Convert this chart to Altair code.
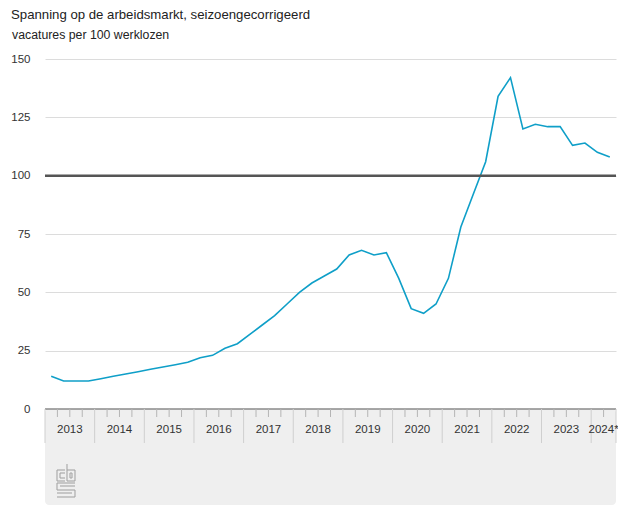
import altair as alt
import pandas as pd

# ---- data ----
years = [2013, 2014, 2015, 2016, 2017, 2018, 2019, 2020, 2021, 2022, 2023, 2024]
year_labels = ["2013", "2014", "2015", "2016", "2017", "2018", "2019", "2020",
               "2021", "2022", "2023", "2024*"]
quarters_per_year = [4, 4, 4, 4, 4, 4, 4, 4, 4, 4, 4, 2]
values = [14, 12, 12, 12,
          13, 14, 15, 16,
          17, 18, 19, 20,
          22, 23, 26, 28,
          32, 36, 40, 45,
          50, 54, 57, 60,
          66, 68, 66, 67,
          56, 43, 41, 45,
          56, 78, 92, 106,
          134, 142, 120, 122,
          121, 121, 113, 114,
          110, 108]
y_ticks = [0, 25, 50, 75, 100, 125, 150]
reference_level = 100

title_text = "Spanning op de arbeidsmarkt, seizoengecorrigeerd"
subtitle_text = "vacatures per 100 werklozen"

FONT = "Liberation Sans"
LINE_COLOR = "#0f9fc8"
W, H = 571, 350

# ---- build tables ----
rows = []
idx = 0
for y, n in zip(years, quarters_per_year):
    for q in range(1, n + 1):
        rows.append({"periode": f"{y} Q{q}", "pos": idx + 0.5, "waarde": values[idx]})
        idx += 1
df = pd.DataFrame(rows)
n_total = len(df)

bounds, centers, qticks = [], [], []
start = 0
for y, lab, n in zip(years, year_labels, quarters_per_year):
    bounds.append(start)
    centers.append({"label": lab, "pos": start + n / 2})
    for k in range(1, n):
        qticks.append(start + k)
    start += n
bounds.append(start)
df_bounds = pd.DataFrame({"pos": bounds})
df_centers = pd.DataFrame(centers)
df_qticks = pd.DataFrame({"pos": qticks})
one = pd.DataFrame({"a": [0]})

xscale = alt.Scale(domain=[0, n_total], nice=False, zero=False)
yscale = alt.Scale(domain=[0, 150], nice=False)

band = alt.Chart(one).mark_rect(color="#efefef", cornerRadius=4).encode(
    x=alt.value(0), x2=alt.value(W), y=alt.value(H), y2=alt.value(H + 96)
)

line = alt.Chart(df).mark_line(color=LINE_COLOR, strokeWidth=1.6).encode(
    x=alt.X("pos:Q", scale=xscale, axis=None),
    y=alt.Y("waarde:Q", scale=yscale, title=None,
            axis=alt.Axis(values=y_ticks, grid=True, gridColor="#dcdcdc",
                          gridWidth=1, domain=False, ticks=False,
                          labelPadding=15, labelFont=FONT, labelFontSize=11.5,
                          labelColor="#333333")),
    tooltip=["periode:N", "waarde:Q"],
)

ref = alt.Chart(pd.DataFrame({"v": [reference_level]})).mark_rule(
    color="#555555", strokeWidth=2.5
).encode(y=alt.Y("v:Q", scale=yscale, axis=None))

baseline = alt.Chart(one).mark_rule(color="#8a8a8a", strokeWidth=1.5).encode(
    x=alt.value(0), x2=alt.value(W), y=alt.value(H)
)

year_sep = alt.Chart(df_bounds).mark_rule(color="#cfcfcf", strokeWidth=1).encode(
    x=alt.X("pos:Q", scale=xscale, axis=None), y=alt.value(H), y2=alt.value(H + 34)
)
q_ticks = alt.Chart(df_qticks).mark_rule(color="#b5b5b5", strokeWidth=1).encode(
    x=alt.X("pos:Q", scale=xscale, axis=None), y=alt.value(H), y2=alt.value(H + 8)
)
year_text = alt.Chart(df_centers).mark_text(
    font=FONT, fontSize=11.5, color="#333333", baseline="middle", align="center"
).encode(x=alt.X("pos:Q", scale=xscale, axis=None), y=alt.value(H + 21), text="label:N")

title = alt.Chart(one).mark_text(
    text=title_text, font=FONT, fontSize=13.2, color="#222222", align="left",
    baseline="alphabetic"
).encode(x=alt.value(-34), y=alt.value(-40.5))
subtitle = alt.Chart(one).mark_text(
    text=subtitle_text, font=FONT, fontSize=12.3, color="#222222", align="left",
    baseline="alphabetic"
).encode(x=alt.value(-33), y=alt.value(-20.5))

# small CBS-style logo drawn with strokes (decoration)
logo_segments = pd.DataFrame([
    # c
    {"x": 12, "x2": 20, "y": 411, "y2": 411},
    {"x": 12, "x2": 12, "y": 411, "y2": 422},
    {"x": 12, "x2": 20, "y": 422, "y2": 422},
    {"x": 15, "x2": 20, "y": 414, "y2": 414},
    {"x": 15, "x2": 15, "y": 414, "y2": 419},
    {"x": 15, "x2": 20, "y": 419, "y2": 419},
    # b
    {"x": 22, "x2": 22, "y": 405, "y2": 422},
    {"x": 22, "x2": 30, "y": 422, "y2": 422},
    {"x": 30, "x2": 30, "y": 411, "y2": 422},
    {"x": 22, "x2": 30, "y": 411, "y2": 411},
    {"x": 25, "x2": 27, "y": 414, "y2": 414},
    {"x": 25, "x2": 27, "y": 419, "y2": 419},
    {"x": 25, "x2": 25, "y": 414, "y2": 419},
    {"x": 27, "x2": 27, "y": 414, "y2": 419},
    # S
    {"x": 12, "x2": 30, "y": 424, "y2": 424},
    {"x": 12, "x2": 12, "y": 424, "y2": 431},
    {"x": 12, "x2": 30, "y": 431, "y2": 431},
    {"x": 30, "x2": 30, "y": 431, "y2": 438},
    {"x": 12, "x2": 30, "y": 438, "y2": 438},
    {"x": 15, "x2": 30, "y": 427, "y2": 427},
    {"x": 12, "x2": 27, "y": 434, "y2": 434},
])
logo = alt.Chart(logo_segments).mark_rule(color="#a5a5a5", strokeWidth=1.1).encode(
    x=alt.X("x:Q", scale=alt.Scale(domain=[0, W], nice=False), axis=None),
    x2="x2:Q",
    y=alt.Y("y:Q", scale=alt.Scale(domain=[0, H], range=[0, H], nice=False), axis=None),
    y2="y2:Q",
)

chart = alt.layer(
    band, line, ref, baseline, year_sep, q_ticks, year_text, title, subtitle, logo
).resolve_scale(x="independent", y="independent").properties(
    width=W, height=H,
    autosize=alt.AutoSizeParams(type="none"),
    padding={"left": 37, "top": 51, "right": 2, "bottom": 96},
).configure_view(stroke=None)

chart.save("out.html", embed_options={"renderer": "svg", "actions": False})
